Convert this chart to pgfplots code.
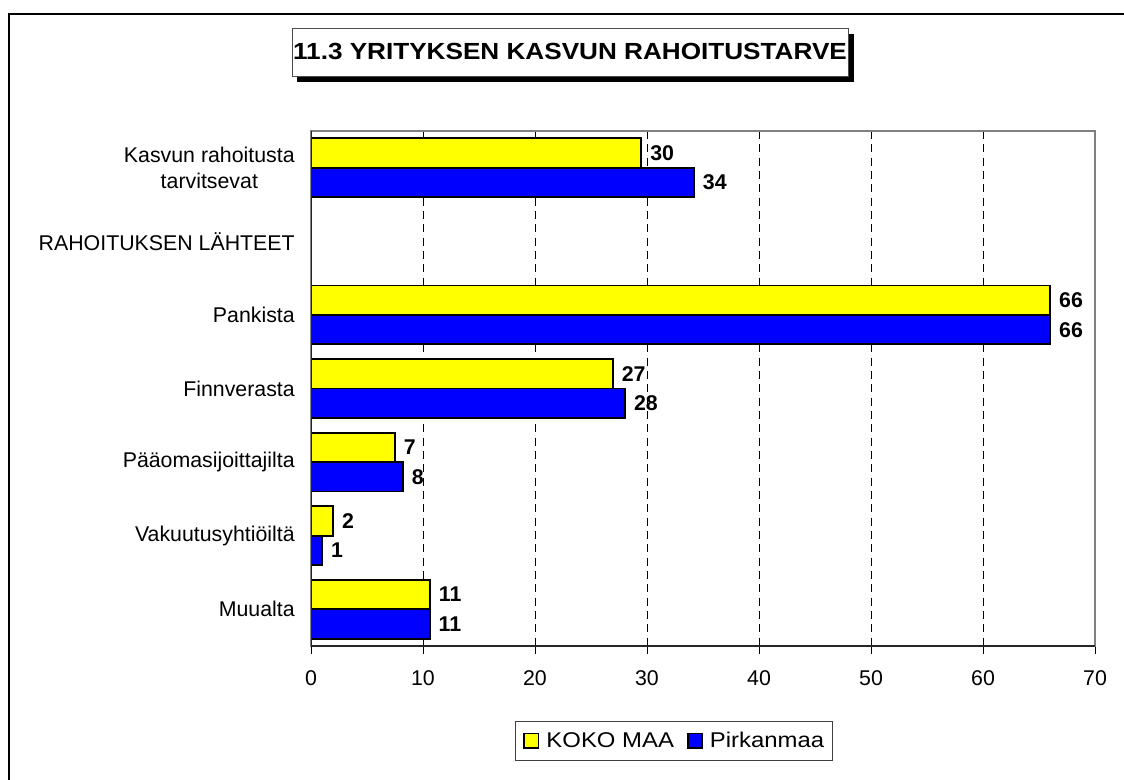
\documentclass[border=0pt]{standalone}
\usepackage{fontspec}
\setmainfont{Liberation Sans}
\newfontfamily\wide{Liberation Sans}[FakeStretch=1.12]
\usepackage{pgfplots}
\pgfplotsset{compat=1.18}
\definecolor{ybar}{RGB}{255,255,0}
\definecolor{bbar}{RGB}{0,0,255}
\pgfplotsset{mybar/.style={xbar, bar width=0.4, draw=black, line width=1.4pt,
  legend image code/.code={\draw[##1, line width=1.2pt] (0.6pt,-5.4pt) rectangle (11.4pt,5.4pt);}}}
\begin{document}
\begin{tikzpicture}[x=0.75pt,y=-0.75pt]
\useasboundingbox (0,0) rectangle (1124,780);
\draw[line width=1.5pt, black] (9,780) -- (9,14) -- (1124,14);
% title
\fill[black] (297,34) rectangle (854,82);
\draw[fill=white, draw=black!70, line width=0.75pt] (292,29) rectangle (848,77);
\node[font=\wide\bfseries\fontsize{17.5}{20}\selectfont, inner sep=0pt] at (570,51.7) {11.3 YRITYKSEN KASVUN RAHOITUSTARVE};
\begin{axis}[
  at={(233.25pt,-484.5pt)}, anchor=south west,
  width=588pt, height=386.25pt, scale only axis,
  xmin=0, xmax=70, ymin=-0.5, ymax=6.5, y dir=reverse,
  xtick={0,10,...,70}, xtick pos=bottom, tick align=outside, major tick length=6pt,
  ytick={0,...,6},
  yticklabels={{Kasvun rahoitusta\\tarvitsevat}, RAHOITUKSEN LÄHTEET, Pankista, Finnverasta, Pääomasijoittajilta, Vakuutusyhtiöiltä, Muualta},
  ytick style={draw=none},
  xtick style={black, line width=0.75pt},
  xmajorgrids, major grid style={black, line width=0.6pt, dash pattern=on 6pt off 4pt},
  axis line style={draw=gray, line width=1.5pt},
  tick label style={font=\fontsize{16}{19.7}\selectfont},
  /pgf/number format/assume math mode=true,
  xticklabel style={inner sep=0pt, anchor=north, yshift=-12pt},
  yticklabel style={inner sep=0pt, align=center, xshift=-6pt},
  point meta=explicit symbolic,
  nodes near coords,
  nodes near coords style={font=\bfseries\fontsize{16}{19}\selectfont, anchor=west, inner sep=0pt, xshift=6pt, text=black},
  legend columns=2,
  legend style={at={(0.2602,-0.1456)}, anchor=north west, draw=black!75, line width=0.75pt, fill=white,
    inner xsep=6pt, inner ysep=8pt, font=\wide\fontsize{16}{19}\selectfont, nodes={inner sep=0pt},
    /tikz/every odd column/.style={column sep=5.25pt}, /tikz/every even column/.style={column sep=9.75pt}},
]
\addplot[mybar, bar shift=-0.2, fill=ybar, every node near coord/.append style={yshift=11.04pt}] coordinates {
  (29.5,0) [30]
  (66.0,2) [66]
  (26.95,3) [27]
  (7.5,4) [7]
  (1.98,5) [2]
  (10.63,6) [11]
};
\addlegendentry{KOKO MAA}
\addplot[mybar, bar shift=0.2, fill=bbar, every node near coord/.append style={yshift=-11.04pt}] coordinates {
  (34.2,0) [34]
  (66.0,2) [66]
  (28.05,3) [28]
  (8.2,4) [8]
  (1.0,5) [1]
  (10.6,6) [11]
};
\addlegendentry{Pirkanmaa}
\draw[black!85, line width=1.5pt] (axis cs:0,-0.5) -- (axis cs:0,6.5) -- (axis cs:70,6.5);
\end{axis}
\end{tikzpicture}
\end{document}
